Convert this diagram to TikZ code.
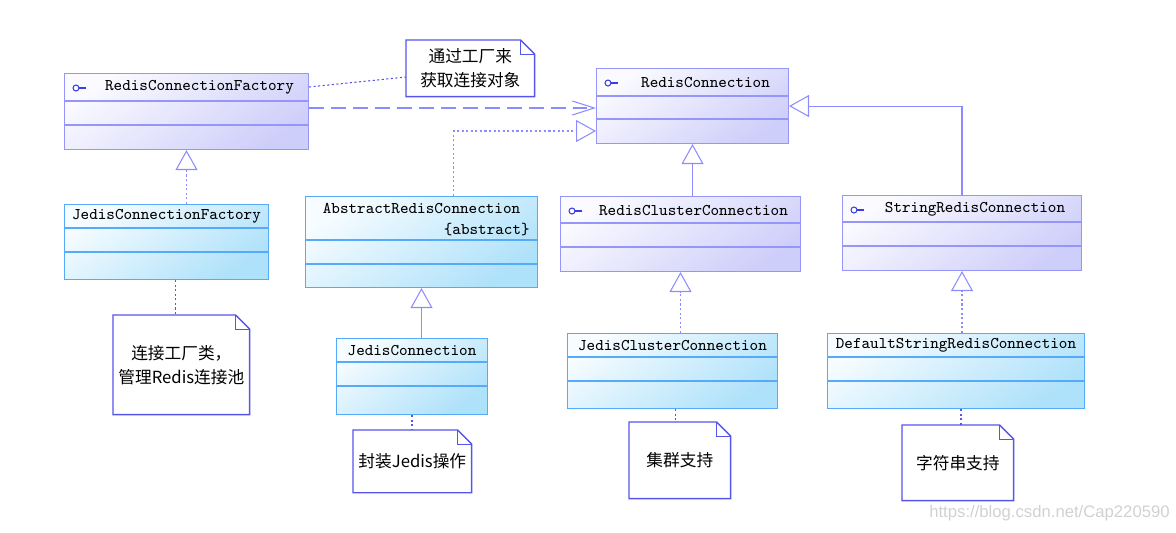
\documentclass[tikz,border=0pt]{standalone}
\usepackage{fontspec}
\newfontfamily\cjk{Noto Sans CJK SC}
\newfontfamily\wmfont{Liberation Sans}
\usetikzlibrary{arrows.meta,calc}

\definecolor{ifaceline}{RGB}{150,150,250}
\definecolor{ifacetop}{RGB}{250,250,255}
\definecolor{ifacebot}{RGB}{206,206,250}
\definecolor{implline}{RGB}{85,170,250}
\definecolor{impltop}{RGB}{246,252,255}
\definecolor{implbot}{RGB}{174,225,250}
\definecolor{notecol}{RGB}{85,85,235}
\definecolor{linkcol}{RGB}{140,140,255}
\definecolor{iconcol}{RGB}{60,60,230}

\tikzset{
  classbox/.style={anchor=north west, inner sep=0pt, line width=0.6pt},
  iface/.style={classbox, draw=ifaceline, top color=ifacetop, bottom color=ifacebot, shading angle=35},
  impl/.style={classbox, draw=implline, top color=impltop, bottom color=implbot, shading angle=35},
  cname/.style={font=\fontsize{9.3}{11}\selectfont\ttfamily, inner sep=0pt},
  notebox/.style={anchor=north west, inner sep=0pt, align=center, font=\cjk\fontsize{9.5}{13.5}\selectfont},
  inherit/.style={draw=linkcol, line width=0.6pt, -{Triangle[open, length=0.4cm, width=0.44cm]}},
  realize/.style={inherit, dash pattern=on 1.2pt off 1.4pt},
  depend/.style={draw=linkcol, line width=0.6pt, dash pattern=on 8.5pt off 4pt, -{Straight Barb[length=0.44cm, width=0.28cm]}},
  notelink/.style={draw=notecol, line width=0.6pt, dash pattern=on 1.2pt off 1.4pt},
}

% compartments of a class box
\newcommand\splitlines[3]{%
  \foreach \d in {#3}
    \draw[#2, line width=0.6pt] ($(#1.north west)+(0,\d)$) -- ($(#1.north east)+(0,\d)$);}
% interface icon
\newcommand\lolly[1]{%
  \draw[iconcol, line width=0.6pt] ($(#1.north west)+(12,15)$) circle (1.7pt);
  \draw[iconcol, line width=0.6pt] ($(#1.north west)+(15,15)$) -- ++(7,0);}
% note with folded corner
\newcommand\noteframe[1]{%
  \draw[notecol, line width=0.8pt] (#1.north west) -- ($(#1.north east)+(-14,0)$) -- ($(#1.north east)+(0,14)$) -- (#1.south east) -- (#1.south west) -- cycle;
  \draw[notecol, line width=0.5pt] ($(#1.north east)+(-14,0)$) -- ($(#1.north east)+(-14,14)$) -- ($(#1.north east)+(0,14)$);}

\begin{document}
\begin{tikzpicture}[x=0.02cm, y=-0.02cm]
  \useasboundingbox (0,0) rectangle (1176,532);

  % interfaces
  \node[iface, minimum width=4.88cm, minimum height=1.52cm] (rcf) at (64,73) {};
  \splitlines{rcf}{ifaceline}{28,52}
  \lolly{rcf}
  \node[cname] (rcfn) at ($(rcf.north)+(13,14)$) {RedisConnectionFactory};

  \node[iface, minimum width=3.84cm, minimum height=1.50cm] (rc) at (596,68) {};
  \splitlines{rc}{ifaceline}{28,51}
  \lolly{rc}
  \node[cname] (rcn) at ($(rc.north)+(13,14)$) {RedisConnection};

  \node[iface, minimum width=4.80cm, minimum height=1.50cm] (rcc) at (560,196) {};
  \splitlines{rcc}{ifaceline}{27,51}
  \lolly{rcc}
  \node[cname] (rccn) at ($(rcc.north)+(13,14)$) {RedisClusterConnection};

  \node[iface, minimum width=4.78cm, minimum height=1.50cm] (src) at (842,195) {};
  \splitlines{src}{ifaceline}{27,51}
  \lolly{src}
  \node[cname] (srcn) at ($(src.north)+(13,14)$) {StringRedisConnection};

  % classes
  \node[impl, minimum width=4.08cm, minimum height=1.50cm] (jcf) at (64,204) {};
  \splitlines{jcf}{implline}{24,48}
  \node[cname] (jcfn) at ($(jcf.north)+(0,12)$) {JedisConnectionFactory};

  \node[impl, minimum width=4.64cm, minimum height=1.82cm] (arc) at (305,196) {};
  \splitlines{arc}{implline}{44,68}
  \node[cname] (arcn) at ($(arc.north)+(0,12)$) {AbstractRedisConnection};
  \node[cname, anchor=east] (arca) at ($(arc.north east)+(-8,33)$) {\{abstract\}};

  \node[impl, minimum width=3.02cm, minimum height=1.52cm] (jc) at (336,338) {};
  \splitlines{jc}{implline}{24,48}
  \node[cname] (jcn) at ($(jc.north)+(0,12)$) {JedisConnection};

  \node[impl, minimum width=4.20cm, minimum height=1.50cm] (jcc) at (567,333) {};
  \splitlines{jcc}{implline}{24,48}
  \node[cname] (jccn) at ($(jcc.north)+(0,12)$) {JedisClusterConnection};

  \node[impl, minimum width=5.14cm, minimum height=1.50cm] (dsrc) at (827,333) {};
  \splitlines{dsrc}{implline}{24,48}
  \node[cname] (dsrcn) at ($(dsrc.north)+(0,12)$) {DefaultStringRedisConnection};

  % notes
  \node[notebox, minimum width=2.56cm, minimum height=1.12cm] (nget) at (406,40) {通过工厂来\\获取连接对象};
  \noteframe{nget}
  \node[notebox, minimum width=2.72cm, minimum height=1.98cm] (npool) at (113,315) {连接工厂类，\\管理Redis连接池};
  \noteframe{npool}
  \node[notebox, minimum width=2.36cm, minimum height=1.24cm] (njedis) at (353,430) {封装Jedis操作};
  \noteframe{njedis}
  \node[notebox, minimum width=2.02cm, minimum height=1.52cm] (ncluster) at (629,422) {集群支持};
  \noteframe{ncluster}
  \node[notebox, minimum width=2.22cm, minimum height=1.50cm] (nstring) at (902,425) {字符串支持};
  \noteframe{nstring}

  % relations
  \draw[depend] (rcf.east |- 0,108) -- (rc.west |- 0,108);
  \draw[realize] ($(arc.north)+(32,0)$) |- (rc.west |- 0,131);
  \draw[inherit] (rcc.north -| rc.south) -- (rc.south);
  \draw[inherit] (src.north) |- (rc.east);
  \draw[realize] (jcf.north -| rcf.south) -- (rcf.south);
  \draw[inherit] (jc.north -| arc.south) -- (arc.south);
  \draw[realize] (jcc.north -| rcc.south) -- (rcc.south);
  \draw[realize] (dsrc.north -| src.south) -- (src.south);

  % note links
  \draw[notelink] (rcf.east |- 0,87) -- (nget.west |- 0,77);
  \draw[notelink] ($(jcf.south)+(9,0)$) coordinate (pj) -- (pj |- npool.north);
  \draw[notelink] (jc.south) -- (jc.south |- njedis.north);
  \draw[notelink] ($(jcc.south)+(3,0)$) coordinate (pc) -- (pc |- ncluster.north);
  \draw[notelink] ($(dsrc.south)+(5,0)$) coordinate (ps) -- (ps |- nstring.north);

  \node[font=\wmfont\fontsize{9.5}{11}\selectfont, text=black!18, anchor=east, inner sep=0pt] (wm) at (1170,513) {https://blog.csdn.net/Cap220590};
\end{tikzpicture}
\end{document}
